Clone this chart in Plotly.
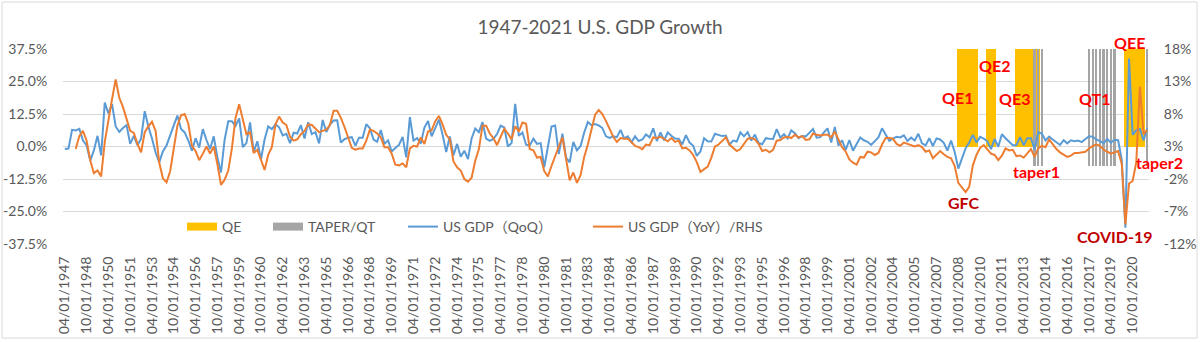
import plotly.graph_objects as go

# ---------------- data ----------------
YEARS = list(range(1947, 2022))
QUARTER_MONTHS = ["01", "04", "07", "10"]
CATEGORIES = [f"{m}/01/{y}" for y in YEARS for m in QUARTER_MONTHS][1:]  # 04/01/1947 .. 10/01/2021

# US real GDP, % change q/q annualised (left axis)
GDP_QOQ = [
    -1.0, -0.8, 6.4,            # 1947 Q2-Q4
    6.2, 6.8, 2.3, 0.4,         # 1948
    -5.4, -1.5, 4.1, -3.4,      # 1949
    16.9, 12.7, 16.3, 7.7,      # 1950
    5.6, 7.1, 8.2, 1.0,         # 1951
    4.1, 0.5, 3.0, 13.6,        # 1952
    7.7, 3.1, -2.3, -6.1,       # 1953
    -1.9, 0.4, 4.6, 8.1,        # 1954
    11.9, 6.7, 5.4, 2.3,        # 1955
    -1.6, 3.2, -0.4, 6.7,       # 1956
    2.5, -1.0, 3.9, -4.1,       # 1957
    -10.0, 2.6, 9.7, 9.7,       # 1958
    7.9, 10.8, -0.2, 1.3,       # 1959
    9.3, -2.1, 2.0, -5.0,       # 1960
    2.7, 7.7, 6.7, 8.5,         # 1961
    7.4, 4.3, 4.9, 1.3,         # 1962
    5.3, 5.0, 8.2, 3.1,         # 1963
    9.3, 4.8, 5.5, 1.2,         # 1964
    10.2, 5.6, 8.4, 10.0,       # 1965
    10.1, 1.5, 2.8, 3.4,        # 1966
    3.6, 0.3, 3.4, 3.4,         # 1967
    8.6, 7.0, 2.7, 1.8,         # 1968
    6.3, 1.0, 2.4, -1.9,        # 1969
    -0.6, 0.6, 3.7, -4.2,       # 1970
    11.3, 2.3, 3.2, 1.1,        # 1971
    7.3, 9.8, 3.9, 6.8,         # 1972
    10.3, 4.6, -2.1, 3.9,       # 1973
    -3.4, 1.0, -3.9, -1.6,      # 1974
    -4.8, 3.1, 6.9, 5.5,        # 1975
    9.4, 3.0, 2.2, 2.9,         # 1976
    4.8, 8.0, 7.3, 0.0,         # 1977
    1.3, 16.4, 4.1, 5.4,        # 1978
    0.7, 0.4, 3.0, 1.0,         # 1979
    1.3, -8.0, -0.5, 7.7,       # 1980
    8.1, -2.9, 4.9, -4.3,       # 1981
    -6.1, 1.8, -1.5, 0.2,       # 1982
    5.4, 9.4, 8.2, 8.6,         # 1983
    8.1, 7.1, 3.9, 3.3,         # 1984
    3.9, 3.6, 6.4, 3.1,         # 1985
    3.9, 1.6, 3.9, 2.1,         # 1986
    2.7, 4.6, 3.5, 7.0,         # 1987
    2.1, 5.4, 2.4, 5.4,         # 1988
    4.1, 3.1, 3.0, 0.8,         # 1989
    4.4, 1.5, 0.3, -3.6,        # 1990
    -1.9, 3.2, 2.0, 1.9,        # 1991
    4.9, 4.4, 4.0, 4.2,         # 1992
    0.7, 2.3, 1.9, 5.4,         # 1993
    3.9, 5.5, 2.3, 4.6,         # 1994
    1.4, 0.9, 3.2, 3.0,         # 1995
    2.9, 6.7, 3.4, 4.7,         # 1996
    3.1, 6.2, 5.1, 3.2,         # 1997
    4.0, 3.9, 5.3, 6.7,         # 1998
    3.4, 3.6, 5.4, 7.0,         # 1999
    1.5, 7.5, 0.4, 2.4,         # 2000
    -1.3, 2.5, -1.6, 1.1,       # 2001
    3.5, 2.4, 1.8, 0.6,         # 2002
    2.2, 3.5, 7.0, 4.7,         # 2003
    2.2, 3.0, 3.7, 3.5,         # 2004
    4.3, 2.1, 3.4, 2.3,         # 2005
    4.9, 1.2, 0.4, 3.2,         # 2006
    0.2, 3.1, 2.7, 1.4,         # 2007
    -1.6, 2.3, -2.1, -8.5,      # 2008
    -4.6, -0.7, 1.5, 4.5,       # 2009
    1.5, 3.7, 3.0, 2.0,         # 2010
    -1.0, 2.9, -0.1, 4.7,       # 2011
    3.2, 1.7, 0.5, 0.5,         # 2012
    3.6, 0.5, 3.2, 3.2,         # 2013
    -1.1, 5.5, 5.0, 2.3,        # 2014
    3.8, 2.7, 1.5, 0.6,         # 2015
    2.4, 1.2, 2.4, 2.0,         # 2016
    2.3, 1.7, 2.9, 3.9,         # 2017
    3.8, 2.7, 2.1, 1.3,         # 2018
    2.9, 1.5, 2.6, 2.4,         # 2019
    -5.1, -31.2, 33.8, 4.5,     # 2020
    6.3, 6.7, 2.3, 6.9,         # 2021
]

# US real GDP, % change y/y (right axis)
GDP_YOY = [
    None, None, None,           # 1947 Q2-Q4
    2.6, 4.6, 5.4, 3.9,         # 1948
    0.9, -1.1, -0.7, -1.6,      # 1949
    3.7, 7.3, 10.3, 13.3,       # 1950
    10.5, 9.1, 7.1, 5.4,        # 1951
    5.1, 3.4, 2.1, 5.2,         # 1952
    6.1, 6.8, 5.4, 0.5,         # 1953
    -1.9, -2.5, -0.8, 2.7,      # 1954
    6.2, 7.8, 8.0, 6.5,         # 1955
    3.1, 2.3, 0.9, 1.9,         # 1956
    3.0, 1.9, 3.0, 0.3,         # 1957
    -2.9, -2.1, -0.7, 2.7,      # 1958
    7.4, 9.5, 7.0, 4.9,         # 1959
    5.2, 2.0, 2.5, 0.9,         # 1960
    -0.6, 1.7, 2.9, 6.4,        # 1961
    7.6, 6.7, 6.3, 4.5,         # 1962
    3.9, 4.1, 4.9, 5.4,         # 1963
    6.4, 6.3, 5.7, 5.2,         # 1964
    5.4, 5.6, 6.3, 8.5,         # 1965
    8.5, 7.4, 6.0, 4.4,         # 1966
    2.8, 2.5, 2.7, 2.7,         # 1967
    3.9, 5.6, 5.4, 5.0,         # 1968
    4.4, 2.9, 2.9, 1.9,         # 1969
    0.2, 0.1, 0.4, -0.2,        # 1970
    2.7, 3.1, 3.0, 4.4,         # 1971
    3.4, 5.3, 5.5, 6.9,         # 1972
    7.7, 6.4, 4.8, 4.1,         # 1973
    0.7, -0.2, -0.7, -2.0,      # 1974
    -2.4, -1.8, 0.8, 2.6,       # 1975
    6.2, 6.2, 5.0, 4.3,         # 1976
    3.2, 4.5, 5.7, 5.0,         # 1977
    4.1, 6.1, 5.3, 6.7,         # 1978
    6.5, 2.6, 2.4, 1.3,         # 1979
    1.4, -0.8, -1.6, -0.0,      # 1980
    1.6, 3.0, 4.4, 1.3,         # 1981
    -2.2, -1.0, -2.6, -1.4,     # 1982
    1.4, 3.3, 5.7, 7.9,         # 1983
    8.6, 8.0, 6.9, 5.6,         # 1984
    4.5, 3.7, 4.3, 4.2,         # 1985
    4.2, 3.7, 3.1, 2.9,         # 1986
    2.6, 3.3, 3.2, 4.4,         # 1987
    4.3, 4.5, 4.2, 3.8,         # 1988
    4.3, 3.7, 3.9, 2.7,         # 1989
    2.8, 2.4, 1.7, 0.6,         # 1990
    -0.9, -0.5, -0.1, 1.3,      # 1991
    3.0, 3.3, 3.8, 4.4,         # 1992
    3.3, 2.8, 2.3, 2.6,         # 1993
    3.4, 4.2, 4.3, 4.1,         # 1994
    3.4, 2.3, 2.5, 2.1,         # 1995
    2.5, 3.9, 4.0, 4.4,         # 1996
    4.5, 4.3, 4.8, 4.4,         # 1997
    4.6, 4.0, 4.1, 5.0,         # 1998
    4.8, 4.7, 4.8, 4.8,         # 1999
    4.4, 5.3, 4.1, 2.9,         # 2000
    2.2, 1.0, 0.5, 0.2,         # 2001
    1.4, 1.3, 2.2, 2.1,         # 2002
    1.7, 2.0, 3.3, 4.3,         # 2003
    4.3, 4.2, 3.4, 3.1,         # 2004
    3.6, 3.4, 3.3, 3.0,         # 2005
    3.2, 2.9, 2.2, 2.4,         # 2006
    1.2, 1.7, 2.3, 1.8,         # 2007
    1.4, 1.2, -0.0, -2.6,       # 2008
    -3.3, -4.0, -3.2, 0.1,      # 2009
    1.7, 2.8, 3.2, 2.5,         # 2010
    1.9, 1.7, 0.9, 1.6,         # 2011
    2.7, 2.4, 2.5, 1.5,         # 2012
    1.6, 1.3, 1.9, 2.6,         # 2013
    1.4, 2.7, 3.1, 2.9,         # 2014
    4.1, 3.4, 2.6, 2.1,         # 2015
    1.8, 1.4, 1.6, 2.0,         # 2016
    2.0, 2.1, 2.2, 2.7,         # 2017
    3.1, 3.3, 3.1, 2.5,         # 2018
    2.2, 1.9, 2.1, 2.3,         # 2019
    0.3, -9.0, -2.7, -2.3,      # 2020
    0.6, 12.2, 4.9, 5.5,        # 2021
]

QE_QUARTERS = ["10/01/2008", "01/01/2009", "04/01/2009", "07/01/2009", "10/01/2009", "01/01/2010",
               "10/01/2010", "01/01/2011", "04/01/2011",
               "10/01/2012", "01/01/2013", "04/01/2013", "07/01/2013", "10/01/2013",
               "01/01/2014", "04/01/2014",
               "04/01/2020", "07/01/2020", "10/01/2020", "01/01/2021", "04/01/2021", "07/01/2021"]
TAPER_QT_QUARTERS = ["01/01/2014", "04/01/2014", "07/01/2014",
                     "10/01/2017", "01/01/2018", "04/01/2018", "07/01/2018", "10/01/2018",
                     "01/01/2019", "04/01/2019", "07/01/2019",
                     "10/01/2021"]
QE_HEIGHT = 37.5        # left axis
TAPER_HEIGHT = 18       # right axis

LEFT_TICKS = [-37.5, -25, -12.5, 0, 12.5, 25, 37.5]
LEFT_LABELS = ["-37.5%", "-25.0%", "-12.5%", "0.0%", "12.5%", "25.0%", "37.5%"]
RIGHT_TICKS = [-12, -7, -2, 3, 8, 13, 18]
RIGHT_LABELS = ["-12%", "-7%", "-2%", "3%", "8%", "13%", "18%"]
X_TICKS = CATEGORIES[::6]

# ---------------- figure ----------------
FONT = "Lato, 'Noto Sans CJK SC', sans-serif"
GREY_TXT = "#595959"
GRID = "#D9D9D9"
N = len(CATEGORIES)
XR = [-0.5, N - 0.5]

fig = go.Figure()
fig.add_trace(go.Bar(x=QE_QUARTERS, y=[QE_HEIGHT] * len(QE_QUARTERS), width=1.0,
                     marker=dict(color="#FFC000", line=dict(width=0)), showlegend=False,
                     xaxis="x", yaxis="y"))
fig.add_trace(go.Bar(x=TAPER_QT_QUARTERS, y=[TAPER_HEIGHT] * len(TAPER_QT_QUARTERS), width=0.62,
                     marker=dict(color="#A5A5A5", line=dict(width=0)), showlegend=False,
                     xaxis="x", yaxis="y2"))
fig.add_trace(go.Scatter(x=CATEGORIES, y=GDP_QOQ, mode="lines", name="US GDP（QoQ）",
                         line=dict(color="#5B9BD5", width=2), xaxis="x", yaxis="y3", legend="legend3"))
fig.add_trace(go.Scatter(x=CATEGORIES, y=GDP_YOY, mode="lines", name="US GDP（YoY）/RHS",
                         line=dict(color="#ED7D31", width=2), xaxis="x", yaxis="y4", legend="legend4"))
# legend-only swatches for the bar series
fig.add_trace(go.Scatter(x=[None], y=[None], mode="lines", name="QE",
                         line=dict(color="#FFC000", width=8), legend="legend"))
fig.add_trace(go.Scatter(x=[None], y=[None], mode="lines", name="TAPER/QT",
                         line=dict(color="#A5A5A5", width=8), legend="legend2"))

ML, MR, MT, MB = 63, 51, 49, 98
W, H = 1200, 342
PW, PH = W - ML - MR, H - MT - MB


def px(x):
    return (x - ML) / PW


def py(y):
    return (H - MB - y) / PH


leg_common = dict(orientation="h", xanchor="left", yanchor="middle", bgcolor="rgba(0,0,0,0)",
                  font=dict(family=FONT, size=14, color=GREY_TXT), itemwidth=30, borderwidth=0)

# (text, category index, left-axis value, colour, xshift px, yshift px)
ANNOTS = [("QE1", 245.8, 19.0, "#FF0000", 0, 0), ("QE2", 256.0, 31.0, "#FF0000", 0, 0),
          ("QE3", 261.5, 18.5, "#FF0000", 0, 0), ("QT1", 283.5, 18.5, "#FF0000", 0, 0),
          ("QEE", 293.1, 37.0, "#FF0000", 0, 8), ("taper1", 267.5, -9.6, "#FF0000", 0, 0),
          ("taper2", 298.0, -5.8, "#FF0000", 12, -1), ("GFC", 247.5, -21.7, "#C00000", 0, 0),
          ("COVID-19", 289.0, -34.6, "#C00000", 0, 0)]
annotations = [dict(text=t, x=xi, y=yv, xref="x", yref="y", showarrow=False, xshift=dx, yshift=dy,
                    borderpad=0, font=dict(family=FONT, size=16, color=c, weight="bold"))
               for t, xi, yv, c, dx, dy in ANNOTS]

fig.update_layout(
    width=W, height=H, margin=dict(l=ML, r=MR, t=MT, b=MB, pad=0),
    paper_bgcolor="white", plot_bgcolor="white",
    barmode="overlay", bargap=0,
    font=dict(family=FONT, size=14, color=GREY_TXT),
    title=dict(text="1947-2021 U.S. GDP Growth", x=0.5, xanchor="center", y=1 - 27 / H, yanchor="middle",
               font=dict(family=FONT, size=19, color=GREY_TXT)),
    xaxis=dict(type="category", categoryorder="array", categoryarray=CATEGORIES, range=XR,
               tickmode="array", tickvals=X_TICKS, ticktext=X_TICKS, tickangle=-90,
               ticks="outside", ticklen=6, tickcolor="rgba(0,0,0,0)", showgrid=False, showline=False,
               zeroline=False, automargin=False, tickfont=dict(family=FONT, size=14, color=GREY_TXT)),
    xaxis2=dict(overlaying="x", anchor="free", position=0.5, range=XR, type="linear",
                tickmode="linear", tick0=-0.5, dtick=1, ticks="outside", ticklen=4, tickcolor=GRID,
                showticklabels=False, showline=True, linecolor=GRID, linewidth=1, showgrid=False,
                zeroline=False, layer="below traces", automargin=False),
    yaxis=dict(range=[-37.5, 37.5], tickmode="array", tickvals=LEFT_TICKS, ticktext=LEFT_LABELS,
               showgrid=True, gridcolor=GRID, gridwidth=1, zeroline=False, showline=False,
               ticks="outside", ticklen=12, tickcolor="rgba(0,0,0,0)", automargin=False,
               tickfont=dict(family=FONT, size=14, color=GREY_TXT)),
    yaxis2=dict(range=[-12, 18], overlaying="y", side="right", tickmode="array", tickvals=RIGHT_TICKS,
                ticktext=RIGHT_LABELS, showgrid=False, zeroline=False, showline=False,
                ticks="outside", ticklen=11, tickcolor="rgba(0,0,0,0)", automargin=False,
                tickfont=dict(family=FONT, size=14, color=GREY_TXT)),
    yaxis3=dict(range=[-37.5, 37.5], overlaying="y", visible=False),
    yaxis4=dict(range=[-12, 18], overlaying="y", visible=False),
    legend=dict(leg_common, x=px(182), y=py(227)),
    legend2=dict(leg_common, x=px(268), y=py(227)),
    legend3=dict(leg_common, x=px(403), y=py(227)),
    legend4=dict(leg_common, x=px(588), y=py(227)),
    annotations=annotations,
    shapes=[dict(type="rect", xref="paper", yref="paper", x0=px(2), x1=px(1197), y0=py(338), y1=py(2),
                 line=dict(color=GRID, width=1), fillcolor="rgba(0,0,0,0)", layer="below")],
)

fig.write_html("out.html")
